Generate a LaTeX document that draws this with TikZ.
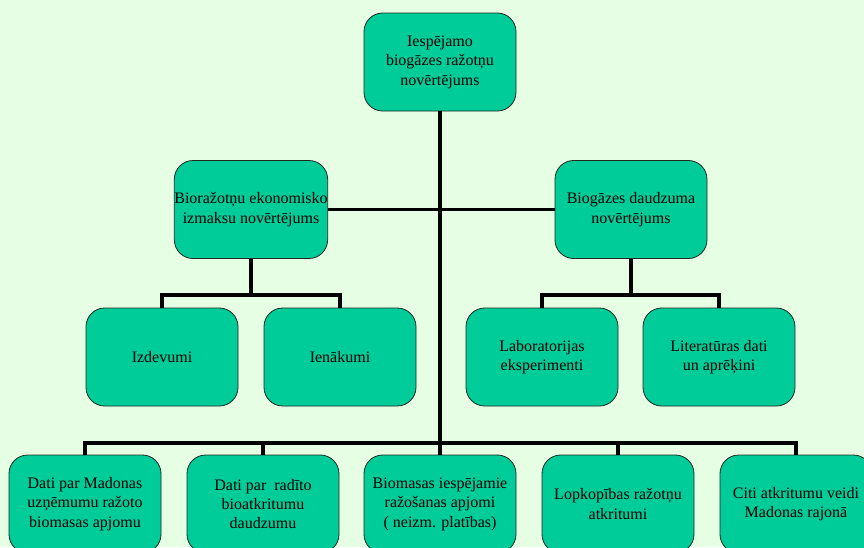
\documentclass[tikz,border=0pt]{standalone}
\usepackage{fontspec}
\setmainfont{Liberation Serif}
\definecolor{bgc}{RGB}{230,255,228}
\definecolor{boxc}{RGB}{0,204,153}
\definecolor{edgec}{RGB}{30,40,35}
\begin{document}
\begin{tikzpicture}[x=0.75pt,y=-0.75pt,
  box/.style={draw=edgec,line width=0.6pt,fill=boxc,rounded corners=14pt,
    minimum width=114pt,minimum height=73.5pt,inner sep=0pt,align=center,
    font=\fontsize{12}{14.6}\selectfont,text=black},
  conn/.style={line width=2.3pt,black}]
\fill[bgc] (0,0) rectangle (864,547);
\useasboundingbox (0,0) rectangle (864,547);
\clip (0,0) rectangle (864,547);
% branch points
\coordinate (jl) at (251,295);
\coordinate (jr) at (631,295);
\coordinate (jb) at (440,443);
% boxes
\node[box] (top) at (440,62) {Iespējamo\\biogāzes ražotņu\\ novērtējums};
\node[box] (lm) at (251,209.5) {Bioražotņu ekonomisko\\ izmaksu novērtējums};
\node[box] (rm) at (631,209.5) {Biogāzes daudzuma\\novērtējums};
\node[box] (izd) at (162,357) {Izdevumi};
\node[box] (ien) at (340,357) {Ienākumi};
\node[box] (lab) at (542,357) {Laboratorijas\\eksperimenti};
\node[box] (lit) at (719,357) {Literatūras dati\\ un aprēķini};
\node[box] (b1) at (85,504) {Dati par Madonas\\ uzņēmumu ražoto\\biomasas apjomu};
\node[box] (b2) at (263,504) {Dati par\ \ radīto\\ bioatkritumu\\daudzumu};
\node[box] (b3) at (440,504) {Biomasas iespējamie\\ražošanas apjomi\\( neizm. platības)};
\node[box] (b4) at (618,504) {Lopkopības ražotņu\\atkritumi};
\node[box] (b5) at (796,504) {Citi atkritumu veidi\\Madonas rajonā};
% connectors
\draw[conn] (top.south) -- (jb);
\draw[conn] (lm.east) -- (rm.west);
\draw[conn] (lm.south) -- (jl);
\draw[conn] (izd.north) |- (jl) -| (ien.north);
\draw[conn] (rm.south) -- (jr);
\draw[conn] (lab.north) |- (jr) -| (lit.north);
\draw[conn] (b1.north) |- (jb) -| (b5.north);
\draw[conn] (b2.north) -- (b2.north |- jb);
\draw[conn] (b3.north) -- (jb);
\draw[conn] (b4.north) -- (b4.north |- jb);
\end{tikzpicture}
\end{document}
